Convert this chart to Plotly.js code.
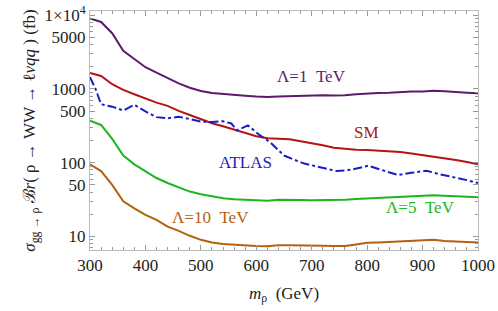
<!DOCTYPE html>
<html>
<head>
<meta charset="utf-8">
<script src="https://cdn.plot.ly/plotly-3.0.1.min.js"></script>
<style>html,body{margin:0;padding:0;background:#fff;}#chart{width:498px;height:311px;}</style>
</head>
<body>
<div id="chart"></div>
<script>
// Mass grid (GeV) for the theory curves
var mass = [300,320,340,360,380,400,420,440,460,480,500,520,540,560,580,600,620,640,660,680,700,720,740,760,780,800,820,840,860,880,900,920,940,960,980,1000];
// Λ = 1 TeV
var lam1 = [9000,8100,5700,3300,2550,1970,1660,1400,1190,1040,940,880,850,830,810,790,780,790,800,800,810,820,815,820,850,870,880,885,905,920,920,945,930,920,890,875];
// SM
var sm = [1650,1500,1160,970,848,740,652,589,504,444,388,343,312,280,256,228,215,210,208,195,185,172,160,155,150,149,146,143,140,133,127,120,116,109,102,95];
// Λ = 5 TeV
var lam5 = [370,325,210,125,95,76,62,53,46,40.6,37.4,34.8,33,32,31.3,30.7,30.5,31.5,31.6,31.2,31,31,30.8,31.5,32.3,32.8,33.3,33.7,34.5,35.5,35.5,36.2,35.5,34.8,34,34];
// Λ = 10 TeV
var lam10 = [95,77,50,30,24,19.6,16.8,13.6,11.9,10.2,9.0,8.3,7.9,7.7,7.5,7.4,7.35,7.6,7.6,7.6,7.5,7.5,7.4,7.4,7.8,8.2,8.3,8.4,8.7,8.8,8.8,9.0,8.7,8.5,8.3,8.3];
// ATLAS limit
var atlasMass = [300,310,320,340,360,380,400,420,440,460,480,500,520,540,555,565,585,605,625,650,685,720,745,770,802,830,856,880,907,930,955,980,1000];
var atlas = [1450,1000,620,575,510,610,495,415,400,420,390,360,357,365,340,275,320,240,190,125,98,85,77,80,91,78,68,73,78,70,64,58,53];

var yTickVals = [10,50,100,500,1000,5000,10000];
var yTickText = ["10","50","100","500","1000","5000","1\u00d710<sup>4</sup>"];
var xTickVals = [300,400,500,600,700,800,900,1000];
var yMinor = [7,8,9,20,30,40,60,70,80,90,200,300,400,600,700,800,900,2000,3000,4000,6000,7000,8000,9000];

var cPurple = '#5d1a6c', cRed = '#b41414', cBlue = '#1c1cc4', cGreen = '#1fb51f', cOrange = '#b5600f';

var traces = [
  {x: mass, y: lam1, mode: 'lines', line: {color: cPurple, width: 2}},
  {x: mass, y: sm, mode: 'lines', line: {color: cRed, width: 2}},
  {x: atlasMass, y: atlas, mode: 'lines', line: {color: cBlue, width: 2, dash: 'dashdot'}},
  {x: mass, y: lam5, mode: 'lines', line: {color: cGreen, width: 2}},
  {x: mass, y: lam10, mode: 'lines', line: {color: cOrange, width: 2}}
];

var serif = '"Liberation Serif", "DejaVu Serif", serif';
var font = {family: serif, size: 17, color: '#222'};

var layout = {
  width: 498, height: 311,
  margin: {l: 90, r: 20, t: 11, b: 61},
  paper_bgcolor: '#fff', plot_bgcolor: '#fff',
  showlegend: false,
  font: font,
  xaxis: {
    range: [300, 1000], tickvals: xTickVals, ticks: 'inside', ticklen: 5, tickcolor: '#999',
    showline: true, linecolor: '#bbb', linewidth: 1, mirror: 'ticks', showgrid: false, zeroline: false,
    minor: {dtick: 20, ticks: 'inside', ticklen: 3, tickcolor: '#999', showgrid: false},
    tickfont: {family: serif, size: 17, color: '#222'},
    title: {text: '<i>m</i><sub>ρ</sub>  (GeV)', font: {family: serif, size: 17, color: '#222'}, standoff: 12}
  },
  yaxis: {
    type: 'log', range: [Math.log10(6.55), Math.log10(11400)], tickvals: yTickVals, ticktext: yTickText,
    ticks: 'inside', ticklen: 5, tickcolor: '#999',
    showline: true, linecolor: '#bbb', linewidth: 1, mirror: 'ticks', showgrid: false, zeroline: false,
    minor: {tickvals: yMinor, ticks: 'inside', ticklen: 3, tickcolor: '#999', showgrid: false},
    tickfont: {family: serif, size: 17, color: '#222'},
    title: {text: '<i>σ</i><sub>gg → ρ</sub> ℬ<i>r</i>( ρ → WW → ℓ<i>νqq</i> ) (fb)', font: {family: serif, size: 17, color: '#222'}, standoff: 4}
  },
  annotations: [
    {x: 699, y: 3.163, text: 'Λ=1  TeV', showarrow: false, font: {family: serif, size: 17, color: cPurple}},
    {x: 798, y: 2.404, text: 'SM', showarrow: false, font: {family: serif, size: 17, color: cRed}},
    {x: 580, y: 1.997, text: 'ATLAS', showarrow: false, font: {family: serif, size: 17, color: cBlue}},
    {x: 897, y: 1.388, text: 'Λ=5  TeV', showarrow: false, font: {family: serif, size: 17, color: cGreen}},
    {x: 516.5, y: 1.252, text: 'Λ=10  TeV', showarrow: false, font: {family: serif, size: 17, color: cOrange}}
  ]
};

Plotly.newPlot('chart', traces, layout, {displayModeBar: false, staticPlot: true});
</script>
</body>
</html>
